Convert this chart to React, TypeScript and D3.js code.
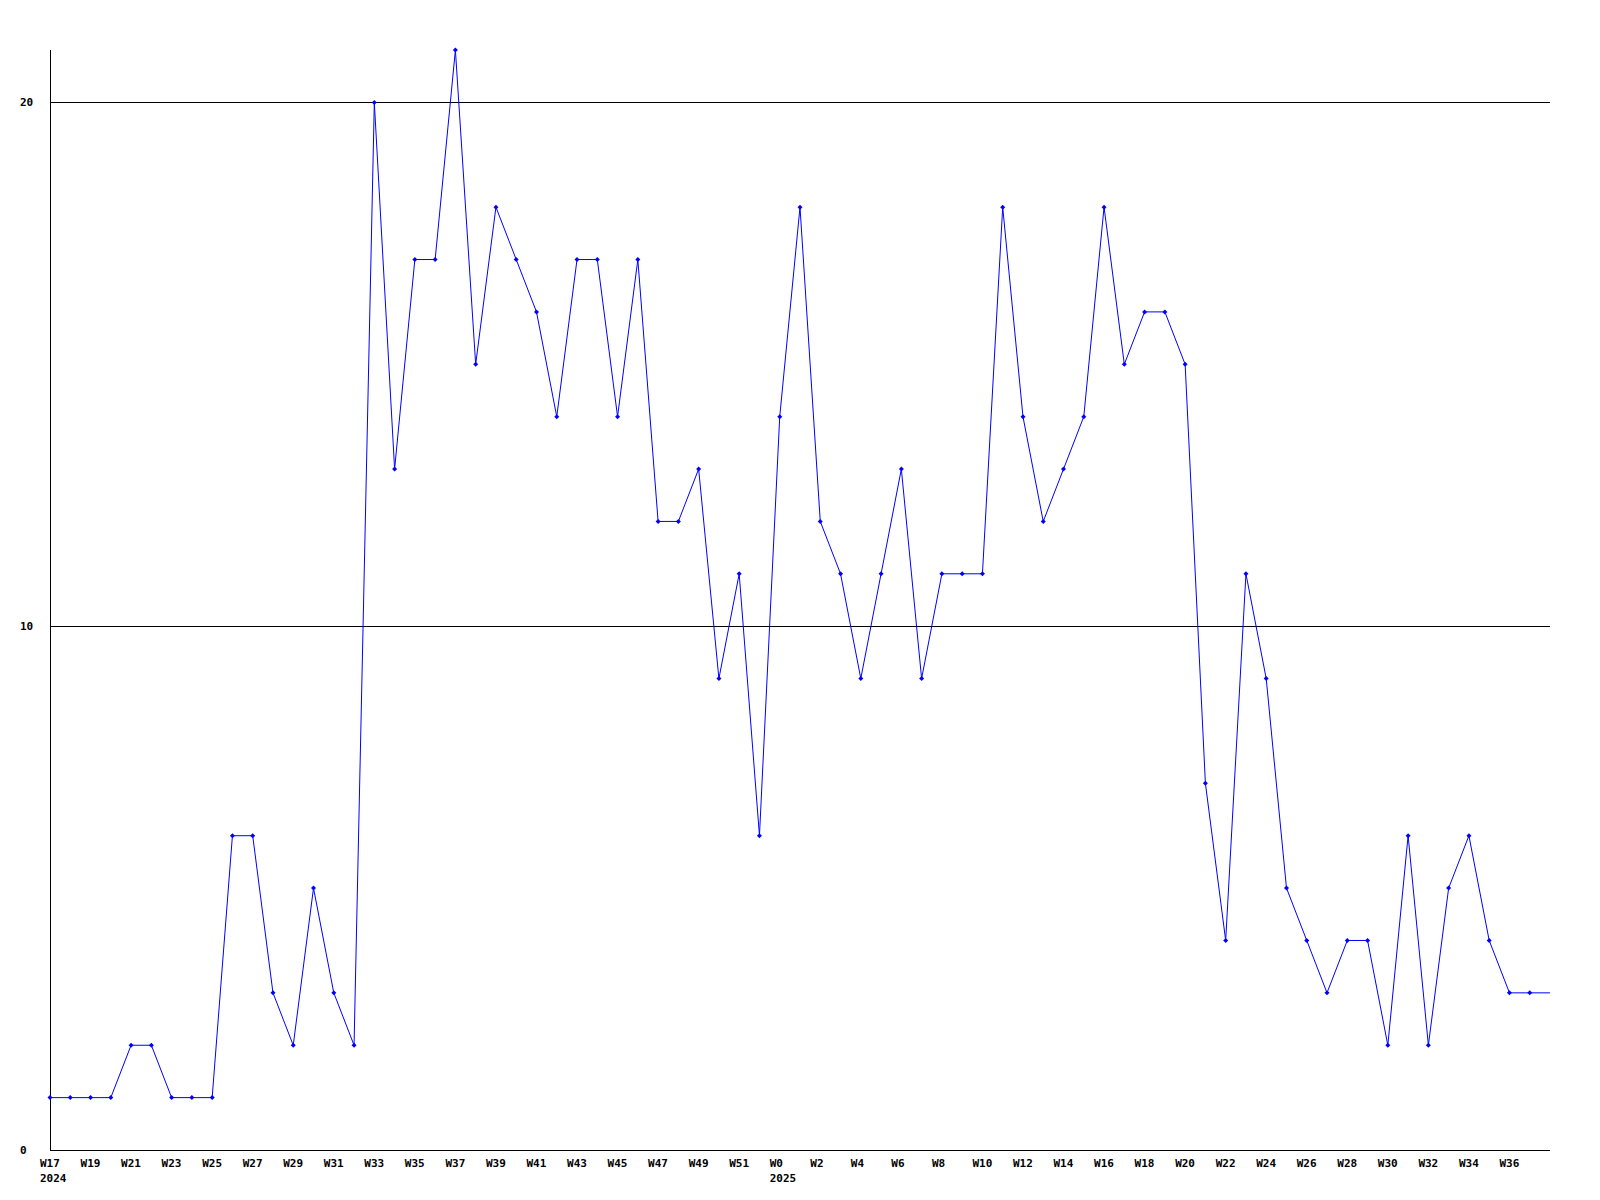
import React from "react";
import * as d3 from "d3";

const weeks: string[] = [
  "W17","W18","W19","W20","W21","W22","W23","W24","W25","W26","W27","W28","W29","W30","W31","W32","W33","W34","W35","W36","W37","W38","W39","W40","W41","W42","W43","W44","W45","W46","W47","W48","W49","W50","W51","W52",
  "W0","W1","W2","W3","W4","W5","W6","W7","W8","W9","W10","W11","W12","W13","W14","W15","W16","W17","W18","W19","W20","W21","W22","W23","W24","W25","W26","W27","W28","W29","W30","W31","W32","W33","W34","W35","W36","W37","W38"
];
const values: number[] = [
  1,1,1,1,2,2,1,1,1,6,6,3,2,5,3,2,20,13,17,17,21,15,18,17,16,14,17,17,14,17,12,12,13,9,11,6,
  14,18,12,11,9,11,13,9,11,11,11,18,14,12,13,14,18,15,16,16,15,7,4,11,9,5,4,3,4,4,2,6,2,5,6,4,3,3,3
];
const yearLabels: { index: number; label: string }[] = [
  { index: 0, label: "2024" },
  { index: 36, label: "2025" },
];
const yTicks: number[] = [0, 10, 20];

export default function App() {
  const W = 1600, H = 1200;
  const left = 50, right = 1550, top = 50, bottom = 1150;
  const x = d3.scaleLinear().domain([0, values.length - 1]).range([left, right]);
  const y = d3.scaleLinear().domain([0, 21]).range([bottom, top]);
  const line = d3.line<number>().x((_, i) => x(i)).y((d) => y(d));
  const font = "'DejaVu Sans Mono', monospace";
  return (
    <svg width={W} height={H} style={{ position: "absolute", left: 0, top: 0, background: "#fff" }}>
      <rect x={0} y={0} width={W} height={H} fill="#fff" />
      {yTicks.filter((t) => t > 0).map((t) => (
        <line key={t} x1={left} x2={right} y1={Math.round(y(t)) + 0.5} y2={Math.round(y(t)) + 0.5} stroke="#000" strokeWidth={1} />
      ))}
      <line x1={left + 0.5} x2={left + 0.5} y1={top} y2={bottom} stroke="#000" strokeWidth={1} />
      <line x1={left} x2={right} y1={bottom + 0.5} y2={bottom + 0.5} stroke="#000" strokeWidth={1} />
      {yTicks.map((t) => (
        <text key={t} x={20} y={Math.round(y(t)) + 4} fontFamily={font} fontWeight="bold" fontSize={11} fill="#000">{t}</text>
      ))}
      {weeks.map((w, i) => (i % 2 === 0 && i < values.length - 1 ? (
        <text key={i} x={x(i) - 10} y={1167} fontFamily={font} fontWeight="bold" fontSize={11} fill="#000">{w}</text>
      ) : null))}
      {yearLabels.map((yl) => (
        <text key={yl.label} x={x(yl.index) - 10} y={1182} fontFamily={font} fontWeight="bold" fontSize={11} fill="#000">{yl.label}</text>
      ))}
      <path d={line(values) || ""} fill="none" stroke="#0000ff" strokeWidth={1} />
      {values.map((v, i) => (i < values.length - 1 ? (
        <path key={i} d={`M${x(i)},${y(v) - 2.5}L${x(i) + 2.5},${y(v)}L${x(i)},${y(v) + 2.5}L${x(i) - 2.5},${y(v)}Z`} fill="#0000ff" />
      ) : null))}
    </svg>
  );
}
